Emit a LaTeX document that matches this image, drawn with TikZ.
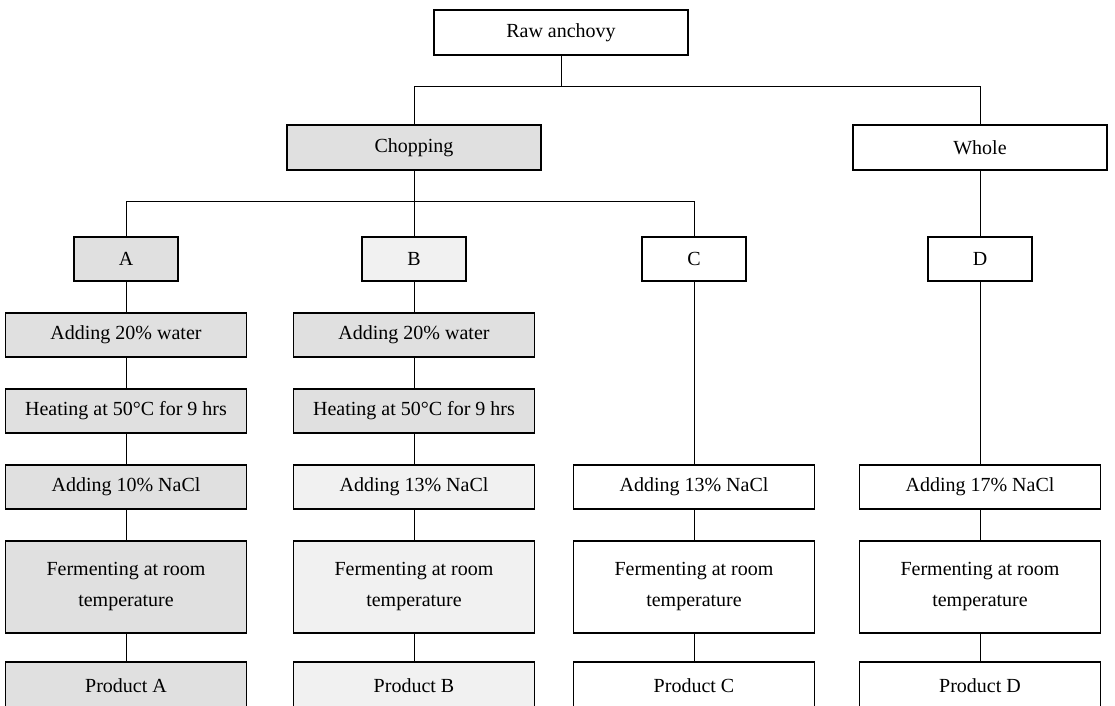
\documentclass[tikz,border=0pt]{standalone}
\usepackage{fontspec}
\setmainfont{Liberation Serif}
\usetikzlibrary{positioning}
\definecolor{halftone}{RGB}{224,224,224}
\tikzset{
    procbox/.style={rectangle, draw=black, line width=0.6pt, fill=white, minimum width=120.5pt, minimum height=22pt, align=center, inner sep=1pt, font=\fontsize{10}{15.5}\selectfont},
    tallbox/.style={procbox, minimum height=46pt},
    prodbox/.style={procbox, minimum height=24pt},
    letterbox/.style={procbox, minimum width=52pt},
    headbox/.style={procbox, minimum width=127pt, minimum height=22.5pt},
    shaded/.style={fill=halftone},
    faint/.style={fill=halftone!45},
    link/.style={draw=black, line width=0.5pt}
}

\begin{document}
\begin{tikzpicture}[x=0.5pt, y=-0.5pt]
    \useasboundingbox (0,0) rectangle (1115,706);
    \clip (0,0) rectangle (1115,706);
    % top levels
    \node[headbox] (raw) at (561, 32.5) {Raw anchovy};
    \node[headbox, shaded] (chop) at (414, 147.5) {Chopping};
    \node[headbox] (whole) at (980, 147.5) {Whole};
    \node[letterbox, shaded] (ga) at (126, 259) {A};
    \node[letterbox, faint] (gb) at (414, 259) {B};
    \node[letterbox] (gc) at (694, 259) {C};
    \node[letterbox] (gd) at (980, 259) {D};
    \coordinate (split1) at (561, 87);
    \coordinate (split2) at (414, 202);
    % column A
    \node[procbox, shaded] (waterA) at (126, 335) {Adding 20\% water};
    \node[procbox, shaded] (heatA) at (126, 411) {Heating at 50°C for 9 hrs};
    \node[procbox, shaded] (saltA) at (126, 487) {Adding 10\% NaCl};
    \node[tallbox, shaded] (fermA) at (126, 587) {Fermenting at room\\temperature};
    \node[prodbox, shaded] (prodA) at (126, 686) {Product A};
    % column B
    \node[procbox, shaded] (waterB) at (414, 335) {Adding 20\% water};
    \node[procbox, shaded] (heatB) at (414, 411) {Heating at 50°C for 9 hrs};
    \node[procbox, faint] (saltB) at (414, 487) {Adding 13\% NaCl};
    \node[tallbox, faint] (fermB) at (414, 587) {Fermenting at room\\temperature};
    \node[prodbox, faint] (prodB) at (414, 686) {Product B};
    % column C
    \node[procbox] (saltC) at (694, 487) {Adding 13\% NaCl};
    \node[tallbox] (fermC) at (694, 587) {Fermenting at room\\temperature};
    \node[prodbox] (prodC) at (694, 686) {Product C};
    % column D
    \node[procbox] (saltD) at (980, 487) {Adding 17\% NaCl};
    \node[tallbox] (fermD) at (980, 587) {Fermenting at room\\temperature};
    \node[prodbox] (prodD) at (980, 686) {Product D};
    % branches
    \draw[link] (raw.south) -- (split1);
    \draw[link] (chop.north) -- (chop.north |- split1) -- (whole.north |- split1) -- (whole.north);
    \draw[link] (chop.south) -- (gb.north);
    \draw[link] (ga.north) -- (ga.north |- split2) -- (gc.north |- split2) -- (gc.north);
    \draw[link] (whole.south) -- (gd.north);
    % chains
    \draw[link] (ga) -- (waterA) (waterA) -- (heatA) (heatA) -- (saltA) (saltA) -- (fermA) (fermA) -- (prodA);
    \draw[link] (gb) -- (waterB) (waterB) -- (heatB) (heatB) -- (saltB) (saltB) -- (fermB) (fermB) -- (prodB);
    \draw[link] (gc) -- (saltC) (saltC) -- (fermC) (fermC) -- (prodC);
    \draw[link] (gd) -- (saltD) (saltD) -- (fermD) (fermD) -- (prodD);
\end{tikzpicture}
\end{document}
